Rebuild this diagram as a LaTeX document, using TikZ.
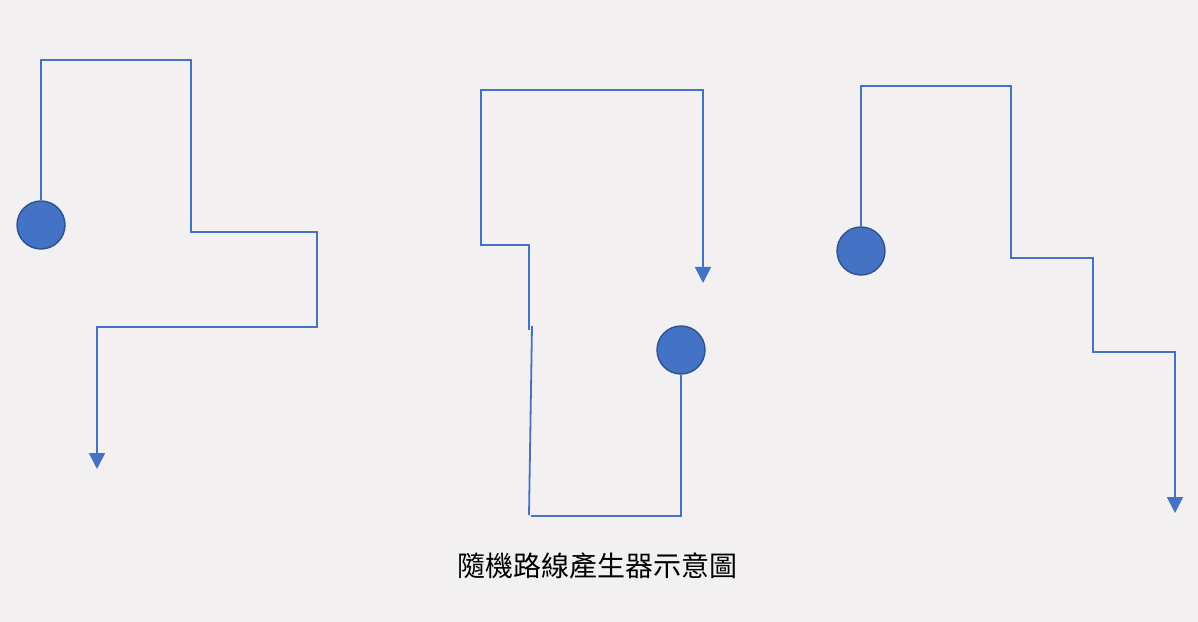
\documentclass[tikz,border=0pt]{standalone}
\usepackage{fontspec}
\newfontfamily\cjk{Noto Sans CJK TC}
\usepackage{tikz}
\usetikzlibrary{arrows.meta,positioning}

\definecolor{pathblue}{HTML}{4472C4}
\definecolor{dotedge}{HTML}{2F528F}
\definecolor{paper}{HTML}{F2F0F1}

\begin{document}
\begin{tikzpicture}[x=1bp,y=-1bp,>={Triangle[length=16bp,width=16bp]},
	route/.style={draw=pathblue,line width=1.8bp},
	start/.style={circle,fill=pathblue,draw=dotedge,line width=1.4bp,minimum size=48bp,inner sep=0pt}]
	\fill[paper] (0,0) rectangle (1198,622);
	\useasboundingbox (0,0) rectangle (1198,622);

	% left route
	\node (dotA)  at (41,225)  [start] {};
	\coordinate (a1) at (41,60);
	\coordinate (a2) at (191,60);
	\coordinate (a3) at (191,232);
	\coordinate (a4) at (317,232);
	\coordinate (a5) at (317,327);
	\coordinate (a6) at (97,327);
	\coordinate (endA) at (97,469);

	% middle route
	\node (dotB)  at (681,350) [start] {};
	\coordinate (b1) at (681,516);
	\coordinate (b2) at (531,516);
	\coordinate (b3) at (529,515);
	\coordinate (b4) at (532,326);
	\coordinate (b5) at (529,330);
	\coordinate (b6) at (529,245);
	\coordinate (b7) at (481,245);
	\coordinate (b8) at (481,90);
	\coordinate (b9) at (703,90);
	\coordinate (endB) at (703,283);

	% right route
	\node (dotC)  at (861,251) [start] {};
	\coordinate (c1) at (861,86);
	\coordinate (c2) at (1011,86);
	\coordinate (c3) at (1011,258);
	\coordinate (c4) at (1093,258);
	\coordinate (c5) at (1093,352);
	\coordinate (c6) at (1175,352);
	\coordinate (endC) at (1175,513);

	\draw [route,->] (dotA.north) -- (a1) -- (a2) -- (a3) -- (a4) -- (a5) -- (a6) -- (endA);
	\draw [route] (dotB.south) -- (b1) -- (b2);
	\draw [route] (b3) -- (b4);
	\draw [route,->] (b5) -- (b6) -- (b7) -- (b8) -- (b9) -- (endB);
	\draw [route,->] (dotC.north) -- (c1) -- (c2) -- (c3) -- (c4) -- (c5) -- (c6) -- (endC);

	\node (title) at (597,566) {\cjk\fontsize{28bp}{33bp}\selectfont 隨機路線產生器示意圖};
\end{tikzpicture}
\end{document}
